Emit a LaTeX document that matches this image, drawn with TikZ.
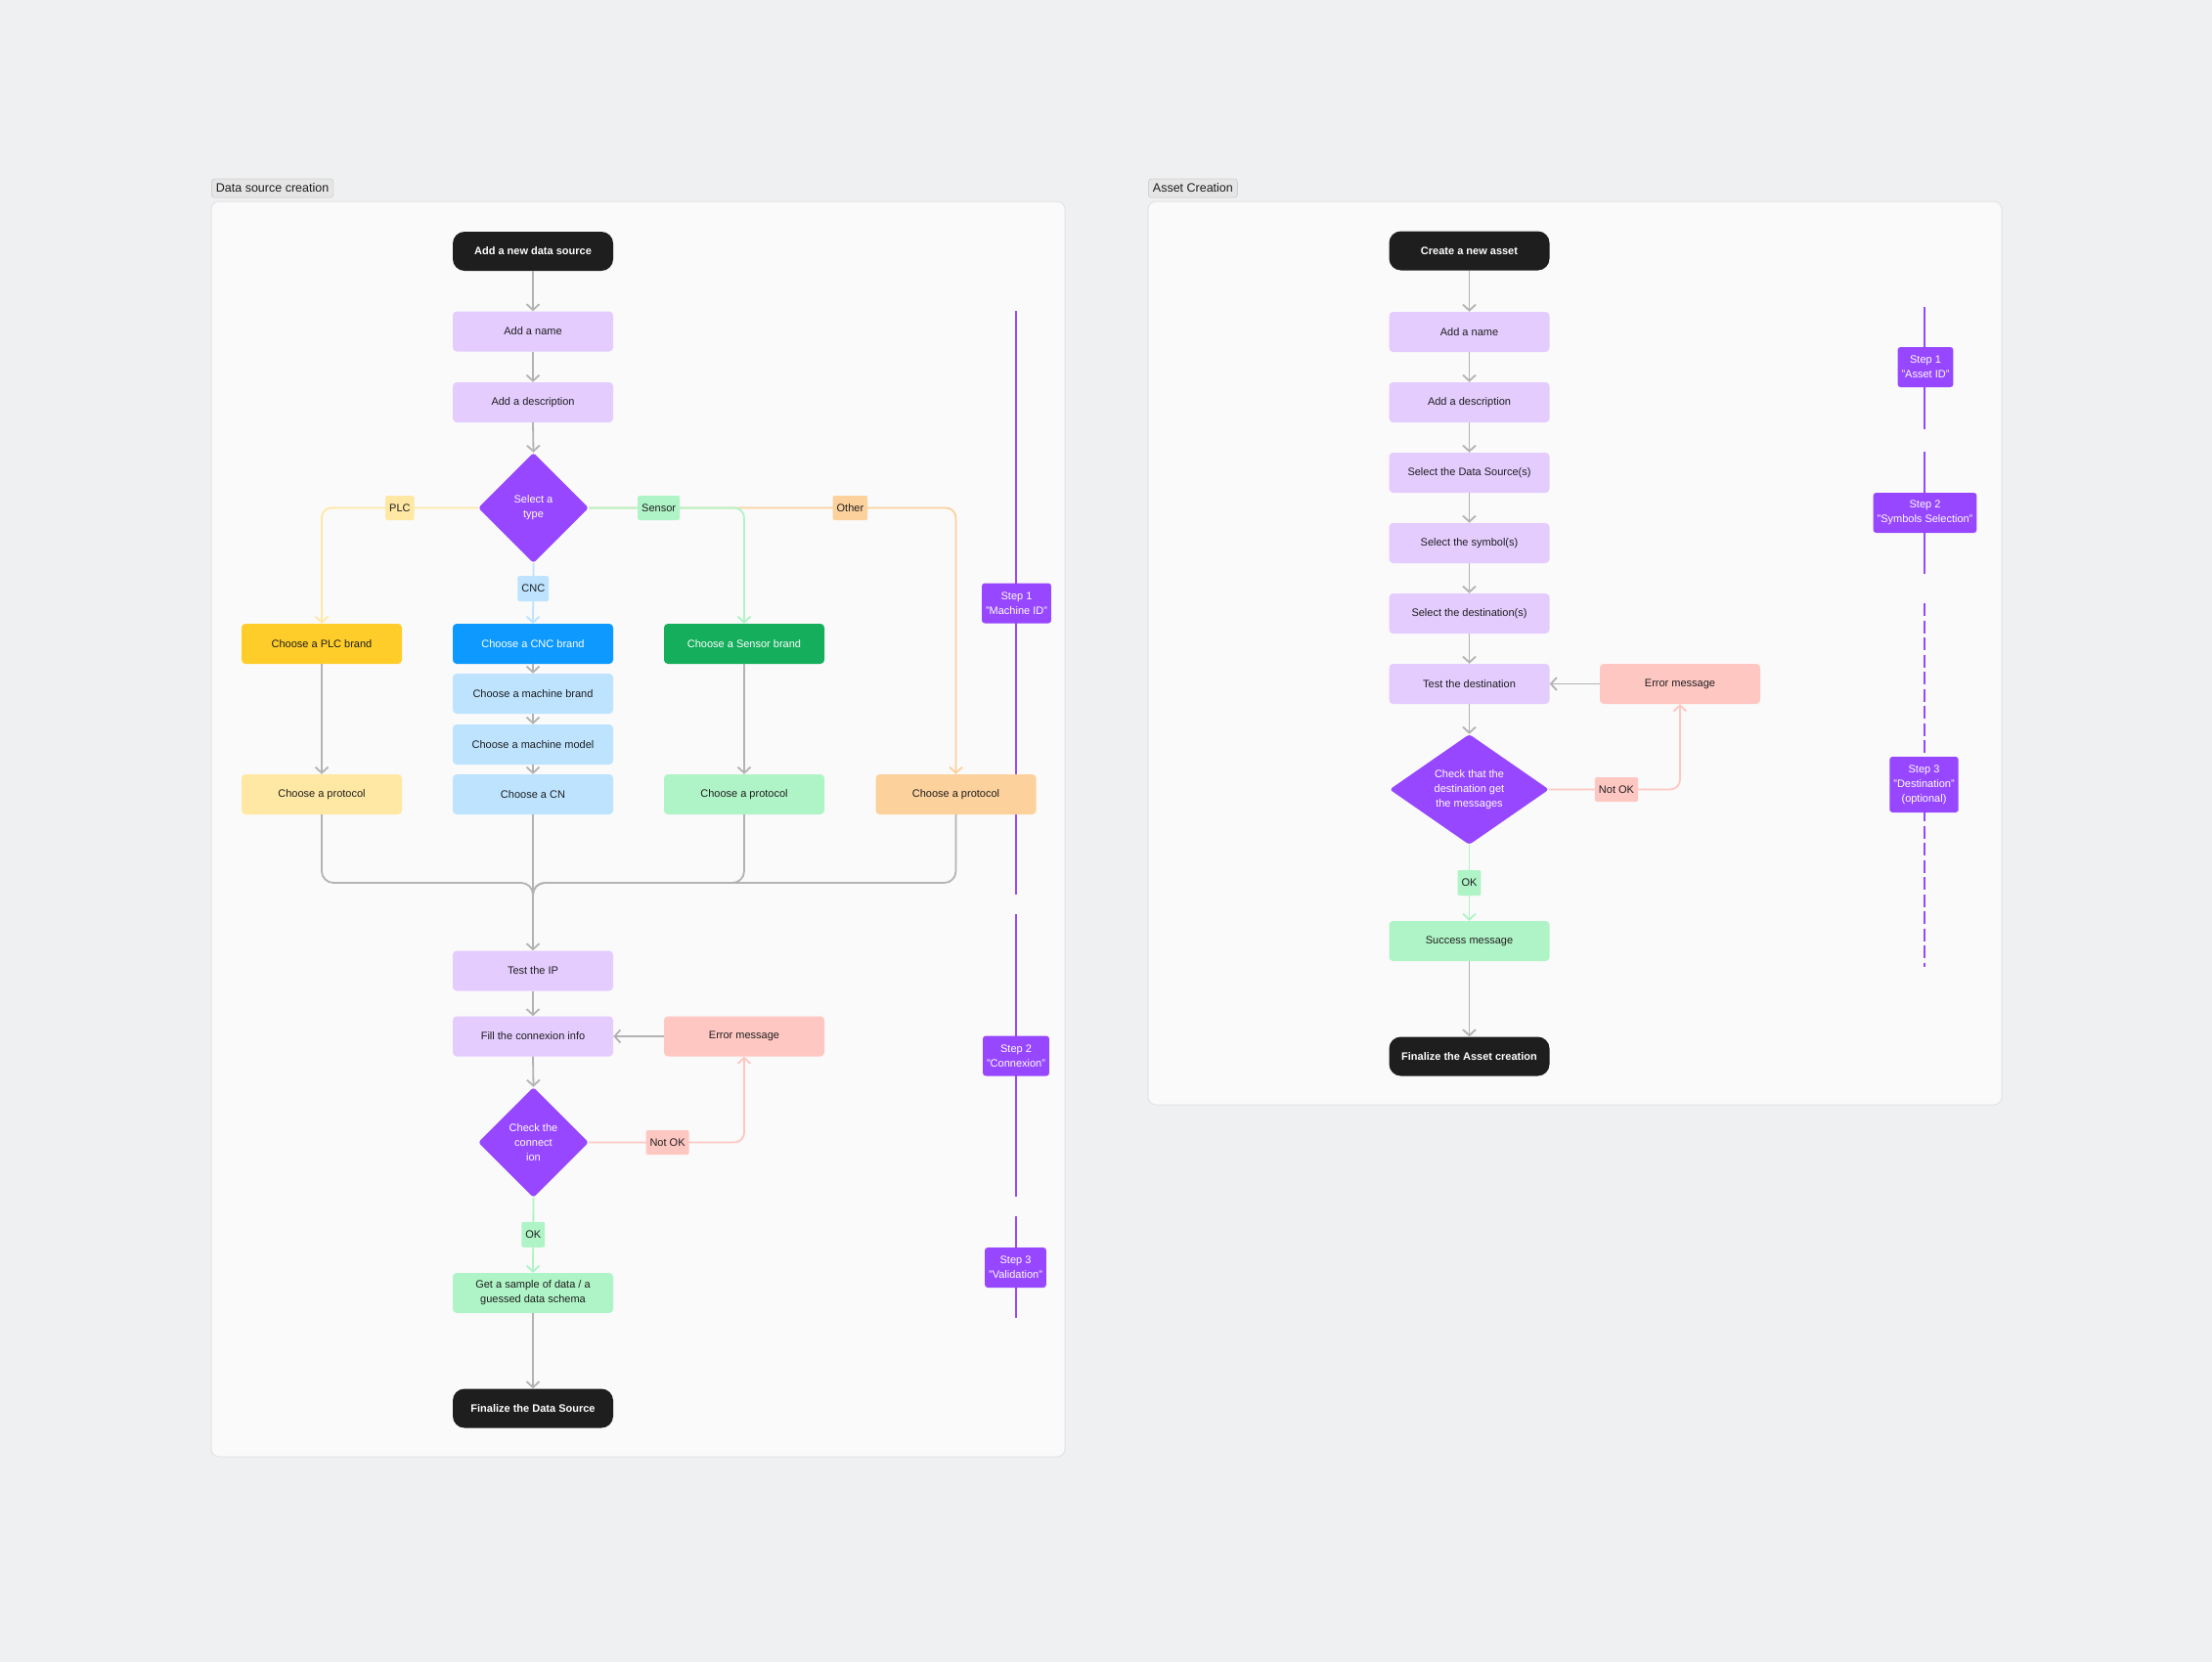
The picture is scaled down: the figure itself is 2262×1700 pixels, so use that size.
\documentclass[tikz,border=0pt]{standalone}
\usepackage{fontspec}
\setmainfont{Liberation Sans}
\usetikzlibrary{arrows.meta,shapes.geometric}
\definecolor{bgc}{HTML}{EFF0F2}
\definecolor{panelc}{HTML}{FAFAFA}
\definecolor{panelb}{HTML}{E3E3E6}
\definecolor{tagc}{HTML}{E6E6E6}
\definecolor{tagb}{HTML}{D2D2D2}
\definecolor{darkc}{HTML}{1E1E1E}
\definecolor{lavc}{HTML}{E4CCFF}
\definecolor{purc}{HTML}{9747FF}
\definecolor{ylw}{HTML}{FFCD29}
\definecolor{ylwl}{HTML}{FFE8A3}
\definecolor{blu}{HTML}{0D99FF}
\definecolor{blul}{HTML}{BDE3FF}
\definecolor{grn}{HTML}{14AE5C}
\definecolor{grnl}{HTML}{AFF4C6}
\definecolor{orgl}{HTML}{FCD19C}
\definecolor{redl}{HTML}{FFC7C2}
\definecolor{linec}{HTML}{B3B3B3}
\definecolor{txtc}{HTML}{1E1E1E}
\tikzset{
  fnt/.style={font=\fontsize{11}{15}\selectfont},
  box/.style={rectangle, rounded corners=4pt, minimum width=164pt, minimum height=41pt,
    inner sep=0pt, align=center, fnt, text=txtc},
  pill/.style={box, fill=darkc, text=white, rounded corners=12pt, minimum height=40pt,
    font=\fontsize{11}{15}\selectfont\bfseries},
  dia/.style={diamond, fill=purc, text=white, inner sep=0pt, rounded corners=3pt,
    align=center, fnt},
  tag/.style={rectangle, rounded corners=2pt, minimum height=25pt, inner xsep=4pt,
    inner ysep=0pt, fnt, text=txtc},
  stepbox/.style={rectangle, fill=purc, text=white, rounded corners=3pt, inner xsep=4pt,
    minimum height=41pt, align=center, fnt},
  paneltag/.style={rectangle, fill=tagc, draw=tagb, line width=0.8pt, rounded corners=3pt,
    minimum height=19pt, inner xsep=4.5pt, inner ysep=0pt, text=txtc,
    font=\fontsize{12.5}{14}\selectfont},
  arr/.style={line width=1.8pt, -{Straight Barb[length=6pt,width=13pt]}, rounded corners=10pt},
  garr/.style={arr, draw=linec},
  gline/.style={line width=1.8pt, draw=linec, rounded corners=12pt},
  stepline/.style={draw=purc, line width=2pt},
}
\begin{document}
\begin{tikzpicture}[x=1pt,y=-1pt]
\fill[bgc] (0,0) rectangle (2262,1700);
\useasboundingbox (0,0) rectangle (2262,1700);

% panels
\draw[fill=panelc, draw=panelb, line width=1pt, rounded corners=8pt] (216,206) rectangle (1089,1490);
\draw[fill=panelc, draw=panelb, line width=1pt, rounded corners=8pt] (1174,206) rectangle (2047,1130);
\node[paneltag, anchor=west] (pt1) at (216,192.5) {Data source creation};
\node[paneltag, anchor=west] (pt2) at (1174,192.5) {Asset Creation};

% step lines (left)
\coordinate (l1a) at (1039,318); \coordinate (l1b) at (1039,915);
\coordinate (l2a) at (1039,935); \coordinate (l2b) at (1039,1224);
\coordinate (l3a) at (1039,1244); \coordinate (l3b) at (1039,1348);
\draw[stepline] (l1a) -- (l1b);
\draw[stepline] (l2a) -- (l2b);
\draw[stepline] (l3a) -- (l3b);
% step lines (right)
\coordinate (r1a) at (1968,314); \coordinate (r1b) at (1968,439);
\coordinate (r2a) at (1968,462); \coordinate (r2b) at (1968,587);
\coordinate (r3a) at (1968,617); \coordinate (r3b) at (1968,989);
\draw[stepline] (r1a) -- (r1b);
\draw[stepline] (r2a) -- (r2b);
\draw[stepline, dash pattern=on 13pt off 4.5pt] (r3a) -- (r3b);

% step boxes
\node[stepbox] (st1) at (1039.5,617) {Step 1\\"Machine ID"};
\node[stepbox] (st2) at (1039,1080) {Step 2\\"Connexion"};
\node[stepbox] (st3) at (1038.5,1296.5) {Step 3\\"Validation"};
\node[stepbox] (rs1) at (1969,375.5) {Step 1\\"Asset ID"};
\node[stepbox] (rs2) at (1968.5,524.5) {Step 2\\"Symbols Selection"};
\node[stepbox, minimum height=57pt] (rs3) at (1967.5,802.5) {Step 3\\"Destination"\\(optional)};

% ---------- left flow ----------
\node[pill] (ds0) at (545,257) {Add a new data source};
\node[box, fill=lavc] (ds1) at (545,339) {Add a name};
\node[box, fill=lavc] (ds2) at (545,411.5) {Add a description};
\node[dia, minimum width=113pt, minimum height=113pt] (ds3) at (545.5,519.5) {Select a\\type};
\node[box, fill=ylw] (plc1) at (329,658.5) {Choose a PLC brand};
\node[box, fill=blu, text=white] (cnc1) at (545,658.5) {Choose a CNC brand};
\node[box, fill=grn, text=white] (sen1) at (761,658.5) {Choose a Sensor brand};
\node[box, fill=blul] (cnc2) at (545,709.5) {Choose a machine brand};
\node[box, fill=blul] (cnc3) at (545,761.5) {Choose a machine model};
\node[box, fill=ylwl] (plc2) at (329,812.5) {Choose a protocol};
\node[box, fill=blul] (cnc4) at (545,812.5) {Choose a CN};
\node[box, fill=grnl] (sen2) at (761,812.5) {Choose a protocol};
\node[box, fill=orgl] (oth) at (977.5,812.5) {Choose a protocol};
\node[box, fill=lavc] (ip) at (545,993) {Test the IP};
\node[box, fill=lavc] (conx) at (545,1060) {Fill the connexion info};
\node[box, fill=redl] (err1) at (761,1060) {Error message};
\node[dia, minimum width=113pt, minimum height=113pt] (chk1) at (545.5,1168.5) {Check the\\connect\\ion};
\node[box, fill=grnl] (smp) at (545,1322.5) {Get a sample of data / a\\guessed data schema};
\node[pill] (ds9) at (545,1440.5) {Finalize the Data Source};

\draw[garr] (ds0.south) -- (ds1.north);
\draw[garr] (ds1.south) -- (ds2.north);
\draw[garr] (ds2.south) -- (ds3.north);
\draw[arr, draw=ylwl] (ds3.west) -| node[tag, fill=ylwl, pos=0.25] (tplc) {PLC} (plc1.north);
\draw[arr, draw=orgl] (ds3.east) -| node[tag, fill=orgl, pos=0.356] (toth) {Other} (oth.north);
\draw[arr, draw=grnl] (ds3.east) -| node[tag, fill=grnl, pos=0.225] (tsen) {Sensor} (sen1.north);
\draw[arr, draw=blul] (ds3.south) -- node[tag, fill=blul, pos=0.42, minimum height=26pt] (tcnc) {CNC} (cnc1.north);
\draw[garr] (cnc1.south) -- (cnc2.north);
\draw[garr] (cnc2.south) -- (cnc3.north);
\draw[garr] (cnc3.south) -- (cnc4.north);
\draw[garr] (plc1.south) -- (plc2.north);
\draw[garr] (sen1.south) -- (sen2.north);
\coordinate (mrg) at (545,903);
\coordinate (mrgb) at (545,940);
\draw[gline] (plc2.south) |- (mrg) -- (mrgb);
\draw[gline] (sen2.south) |- (mrg) -- (mrgb);
\draw[gline] (oth.south) |- (mrg) -- (mrgb);
\draw[garr] (cnc4.south) -- (ip.north);
\draw[garr] (ip.south) -- (conx.north);
\draw[garr] (err1.west) -- (conx.east);
\draw[garr] (conx.south) -- (chk1.north);
\draw[arr, draw=redl] (chk1.east) -| node[tag, fill=redl, pos=0.253] (tnok1) {Not OK} (err1.south);
\draw[arr, draw=grnl] (chk1.south) -- node[tag, fill=grnl, pos=0.49, minimum height=26pt] (tok1) {OK} (smp.north);
\draw[garr] (smp.south) -- (ds9.north);

% ---------- right flow ----------
\node[pill] (as0) at (1502.5,256.5) {Create a new asset};
\node[box, fill=lavc] (as1) at (1502.5,339.5) {Add a name};
\node[box, fill=lavc] (as2) at (1502.5,411.5) {Add a description};
\node[box, fill=lavc] (as3) at (1502.5,483.5) {Select the Data Source(s)};
\node[box, fill=lavc] (as4) at (1502.5,555.5) {Select the symbol(s)};
\node[box, fill=lavc] (as5) at (1502.5,627.5) {Select the destination(s)};
\node[box, fill=lavc] (as6) at (1502.5,699.5) {Test the destination};
\node[box, fill=redl] (err2) at (1718,699.5) {Error message};
\node[dia, aspect=1.44, minimum width=163pt, minimum height=113pt] (chk2) at (1502.5,807.5) {Check that the\\destination get\\the messages};
\node[box, fill=grnl] (suc) at (1502.5,962.5) {Success message};
\node[pill] (as9) at (1502.5,1080.5) {Finalize the Asset creation};

\draw[garr] (as0.south) -- (as1.north);
\draw[garr] (as1.south) -- (as2.north);
\draw[garr] (as2.south) -- (as3.north);
\draw[garr] (as3.south) -- (as4.north);
\draw[garr] (as4.south) -- (as5.north);
\draw[garr] (as5.south) -- (as6.north);
\draw[garr] (err2.west) -- (as6.east);
\draw[garr] (as6.south) -- (chk2.north);
\draw[arr, draw=redl] (chk2.east) -| node[tag, fill=redl, pos=0.257] (tnok2) {Not OK} (err2.south);
\draw[arr, draw=grnl] (chk2.south) -- node[tag, fill=grnl, pos=0.5, minimum height=26pt] (tok2) {OK} (suc.north);
\draw[garr] (suc.south) -- (as9.north);
\end{tikzpicture}
\end{document}
